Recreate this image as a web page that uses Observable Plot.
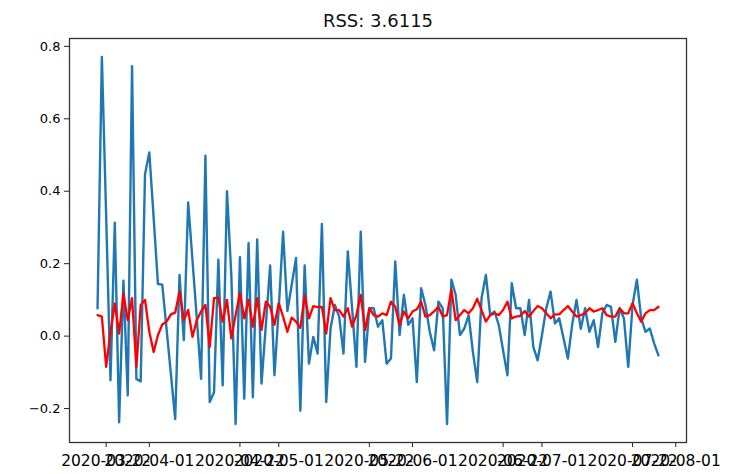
<!DOCTYPE html>
<html>
<head>
<meta charset="utf-8">
<script src="https://cdn.jsdelivr.net/npm/d3@7"></script>
<script src="https://cdn.jsdelivr.net/npm/@observablehq/plot@0.6"></script>
<style>
  html, body { margin: 0; padding: 0; background: #fff; }
  #chart svg { display: block; font-family: "DejaVu Sans", sans-serif; }
</style>
</head>
<body>
<div id="chart"></div>
<script>
const titleText = "RSS: 3.6115";
const startDate = "2020-03-20";

const observed = [
  0.077, 0.771, 0.33, -0.122, 0.313, -0.238, 0.153, -0.164, 0.745, -0.118,
  -0.125, 0.447, 0.507, 0.327, 0.144, 0.142, 0.019, -0.105, -0.229, 0.169,
  -0.011, 0.369, 0.21, 0.05, -0.118, 0.498, -0.182, -0.155, 0.211, -0.136,
  0.40, 0.169, -0.243, 0.218, -0.173, 0.257, -0.169, 0.267, -0.131, 0.03,
  0.195, -0.108, 0.077, 0.288, 0.069, 0.142, 0.216, -0.206, 0.195, -0.076,
  -0.002, -0.048, 0.31, -0.182, 0.021, 0.086, 0.054, -0.048, 0.234, 0.077,
  -0.085, 0.288, -0.071, 0.077, 0.077, 0.026, 0.044, -0.076, -0.062, 0.206,
  0.003, 0.114, 0.031, 0.049, -0.127, 0.132, 0.086, 0.012, -0.039, 0.095,
  0.077, -0.243, 0.156, 0.114, 0.003, 0.021, 0.058, -0.044, -0.127, 0.105,
  0.169, 0.058, 0.068, 0.03, -0.04, -0.108, 0.146, 0.077, 0.077, 0.003,
  0.10, -0.03, -0.067, 0.003, 0.077, 0.123, 0.035, 0.049, -0.006, -0.062,
  0.031, 0.10, 0.02, 0.077, 0.012, 0.044, -0.03, 0.063, 0.086, 0.081,
  -0.016, 0.077, 0.049, -0.085, 0.086, 0.156, 0.049, 0.012, 0.021, -0.02,
  -0.053
];

const fitted = [
  0.058, 0.054, -0.085, 0.012, 0.09, 0.007, 0.117, 0.044, 0.105, -0.085,
  0.086, 0.10, 0.012, -0.044, 0.003, 0.032, 0.04, 0.06, 0.065, 0.123,
  0.044, 0.072, -0.002, 0.044, 0.068, 0.086, -0.03, 0.105, 0.106, 0.04,
  0.10, -0.006, 0.058, 0.119, 0.049, 0.10, 0.026, 0.105, 0.017, 0.095,
  0.081, 0.031, 0.091, 0.054, 0.012, 0.051, 0.04, 0.023, 0.112, 0.049,
  0.083, 0.08, 0.081, 0.007, 0.105, 0.072, 0.072, 0.054, 0.077, 0.026,
  0.058, 0.114, 0.017, 0.077, 0.058, 0.054, 0.063, 0.058, 0.095, 0.081,
  0.031, 0.068, 0.049, 0.068, 0.074, 0.095, 0.054, 0.058, 0.068, 0.081,
  0.054, 0.058, 0.128, 0.044, 0.058, 0.072, 0.063, 0.077, 0.103, 0.072,
  0.04, 0.058, 0.063, 0.058, 0.072, 0.095, 0.049, 0.054, 0.056, 0.069,
  0.054, 0.069, 0.083, 0.077, 0.063, 0.049, 0.06, 0.06, 0.072, 0.083,
  0.068, 0.054, 0.058, 0.063, 0.077, 0.068, 0.072, 0.077, 0.058, 0.054,
  0.054, 0.077, 0.063, 0.063, 0.091, 0.063, 0.04, 0.063, 0.072, 0.072,
  0.081
];

const xTickLabels = ["2020-03-22", "2020-04-01", "2020-04-22", "2020-05-01", "2020-05-22",
  "2020-06-01", "2020-06-22", "2020-07-01", "2020-07-22", "2020-08-01"];
const yTicks = [-0.2, 0.0, 0.2, 0.4, 0.6, 0.8];

const parse = d3.utcParse("%Y-%m-%d");
const t0 = parse(startDate);
const rows = observed.map((v, i) => ({date: d3.utcDay.offset(t0, i), observed: v, fitted: fitted[i]}));
const tEnd = rows[rows.length - 1].date;
const span = tEnd - t0;
const xDomain = [new Date(+t0 - 0.05 * span), new Date(+tEnd + 0.05 * span)];
const allV = observed.concat(fitted);
const vMin = d3.min(allV), vMax = d3.max(allV);
const yDomain = [vMin - 0.05 * (vMax - vMin), vMax + 0.05 * (vMax - vMin)];

const chart = Plot.plot({
  width: 729,
  height: 474,
  marginLeft: 69,
  marginRight: 43,
  marginTop: 38,
  marginBottom: 32,
  style: {fontFamily: "'DejaVu Sans', sans-serif", color: "black", background: "white"},
  x: {type: "utc", domain: xDomain},
  y: {domain: yDomain},
  marks: [
    Plot.axisY({ticks: yTicks, tickFormat: d3.format(".1f"), tickSize: 5, tickPadding: 4, fontSize: 13, label: null, stroke: "#222"}),
    Plot.axisX({ticks: xTickLabels.map(parse), tickFormat: d3.utcFormat("%Y-%m-%d"), tickSize: 5, tickPadding: 7, fontSize: 15.5, label: null, stroke: "#222"}),
    Plot.lineY(rows, {x: "date", y: "observed", stroke: "#1f77b4", strokeWidth: 2.4, strokeLinejoin: "round"}),
    Plot.lineY(rows, {x: "date", y: "fitted", stroke: "#ff0000", strokeWidth: 2.3, strokeLinejoin: "round"}),
    Plot.frame({stroke: "#333", strokeWidth: 1.3}),
    Plot.text([titleText], {frameAnchor: "top", dy: -17, fontSize: 18, fill: "#111", lineAnchor: "middle"})
  ]
});
document.getElementById("chart").appendChild(chart);
</script>
</body>
</html>
